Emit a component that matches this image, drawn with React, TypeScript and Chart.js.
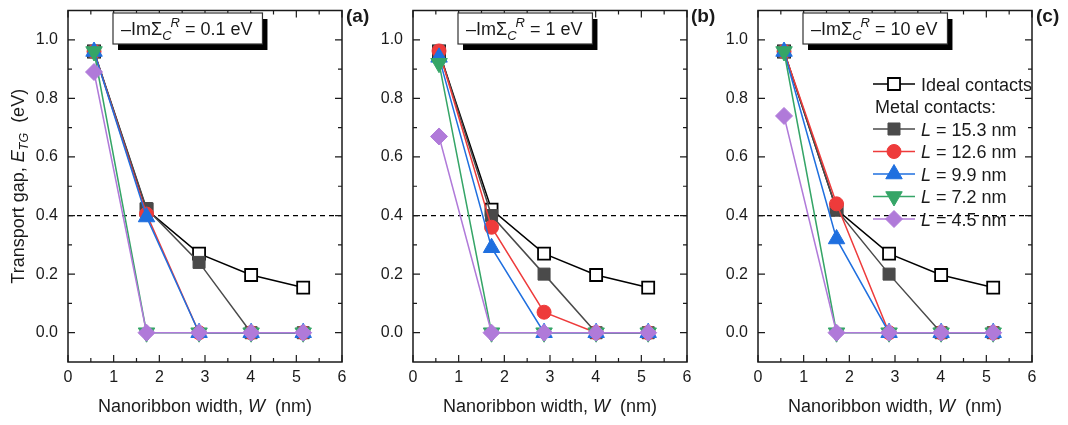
import React, { useEffect, useRef } from 'react';
import { Chart, registerables } from 'chart.js';

Chart.register(...registerables);

// ---------------- data ----------------
const widthsNm = [0.57, 1.72, 2.87, 4.01, 5.15];
const idealGap = [0.96, 0.42, 0.27, 0.197, 0.154];

// panel (a): -Im Sigma = 0.1 eV
const gapA_15_3 = [0.96, 0.424, 0.24, 0, 0];
const gapA_12_6 = [0.96, 0.405, 0, 0, 0];
const gapA_9_9 = [0.96, 0.395, 0, 0, 0];
const gapA_7_2 = [0.96, 0, 0, 0, 0];
const gapA_4_5 = [0.89, 0, 0, 0, 0];

// panel (b): -Im Sigma = 1 eV
const gapB_15_3 = [0.96, 0.4, 0.2, 0, 0];
const gapB_12_6 = [0.962, 0.36, 0.07, 0, 0];
const gapB_9_9 = [0.94, 0.29, 0, 0, 0];
const gapB_7_2 = [0.92, 0, 0, 0, 0];
const gapB_4_5 = [0.67, 0, 0, 0, 0];

// panel (c): -Im Sigma = 10 eV
const gapC_15_3 = [0.96, 0.42, 0.2, 0, 0];
const gapC_12_6 = [0.96, 0.44, 0, 0, 0];
const gapC_9_9 = [0.96, 0.32, 0, 0, 0];
const gapC_7_2 = [0.96, 0, 0, 0, 0];
const gapC_4_5 = [0.74, 0, 0, 0, 0];

const contactLengths = ['15.3', '12.6', '9.9', '7.2', '4.5'];
const panelSigma = ['0.1', '1', '10'];
const panelTags = ['(a)', '(b)', '(c)'];
const xTickValues = [0, 1, 2, 3, 4, 5, 6];
const xMinorValues = [0.5, 1.5, 2.5, 3.5, 4.5, 5.5];
const yTickValues = [0, 0.2, 0.4, 0.6, 0.8, 1.0];
const yMinorValues = [0.1, 0.3, 0.5, 0.7, 0.9];
const thresholdGap = 0.4;

const panelSeries = [
  [idealGap, gapA_15_3, gapA_12_6, gapA_9_9, gapA_7_2, gapA_4_5],
  [idealGap, gapB_15_3, gapB_12_6, gapB_9_9, gapB_7_2, gapB_4_5],
  [idealGap, gapC_15_3, gapC_12_6, gapC_9_9, gapC_7_2, gapC_4_5],
];

// ---------------- styles ----------------
const FAM = '"Liberation Sans", Arial, Helvetica, sans-serif';
const INK = '#1a1a1a';

type Style = { color: string; fill: string; shape: string; r: number; rot: number; bw: number };
const seriesStyles: Style[] = [
  { color: '#000000', fill: '#ffffff', shape: 'rect', r: 8.5, rot: 0, bw: 1.8 },
  { color: '#4a4a4a', fill: '#4a4a4a', shape: 'rect', r: 8.5, rot: 0, bw: 1 },
  { color: '#ee3b3b', fill: '#ee3b3b', shape: 'circle', r: 7, rot: 0, bw: 1 },
  { color: '#1f6fdf', fill: '#1f6fdf', shape: 'triangle', r: 9.5, rot: 0, bw: 1 },
  { color: '#35a567', fill: '#35a567', shape: 'triangle', r: 9.5, rot: 180, bw: 1 },
  { color: '#b07ad9', fill: '#b07ad9', shape: 'rectRot', r: 8.5, rot: 0, bw: 1 },
];

const panelGeom = [
  { left: 0, width: 378, yWidth: 68, padRight: 36 },
  { left: 378, width: 344, yWidth: 35, padRight: 35 },
  { left: 722, width: 346, yWidth: 36, padRight: 36 },
];

// ---------------- drawing helpers ----------------
type Seg = { t: string; size: number; italic?: boolean; bold?: boolean; dy?: number; dx?: number };
const segFont = (s: Seg) => `${s.italic ? 'italic ' : ''}${s.bold ? 'bold ' : ''}${s.size}px ${FAM}`;
function richWidth(ctx: CanvasRenderingContext2D, segs: Seg[]) {
  let w = 0;
  for (const s of segs) {
    ctx.font = segFont(s);
    w += ctx.measureText(s.t).width + (s.dx || 0);
  }
  return w;
}
function drawRich(ctx: CanvasRenderingContext2D, segs: Seg[], x: number, y: number) {
  let cx = x;
  ctx.textAlign = 'left';
  ctx.textBaseline = 'alphabetic';
  for (const s of segs) {
    ctx.font = segFont(s);
    cx += s.dx || 0;
    ctx.fillText(s.t, cx, y + (s.dy || 0));
    cx += ctx.measureText(s.t).width;
  }
}
function drawMarker(ctx: CanvasRenderingContext2D, st: Style, x: number, y: number) {
  const r = st.r;
  ctx.beginPath();
  if (st.shape === 'rect') {
    const s = r * Math.SQRT1_2;
    ctx.rect(x - s, y - s, 2 * s, 2 * s);
  } else if (st.shape === 'circle') {
    ctx.arc(x, y, r, 0, Math.PI * 2);
  } else if (st.shape === 'triangle') {
    let rad = (st.rot * Math.PI) / 180;
    ctx.moveTo(x + Math.sin(rad) * r, y - Math.cos(rad) * r);
    rad += (2 * Math.PI) / 3;
    ctx.lineTo(x + Math.sin(rad) * r, y - Math.cos(rad) * r);
    rad += (2 * Math.PI) / 3;
    ctx.lineTo(x + Math.sin(rad) * r, y - Math.cos(rad) * r);
    ctx.closePath();
  } else {
    ctx.moveTo(x - r, y);
    ctx.lineTo(x, y - r);
    ctx.lineTo(x + r, y);
    ctx.lineTo(x, y + r);
    ctx.closePath();
  }
  ctx.fillStyle = st.fill;
  ctx.fill();
  ctx.lineWidth = st.bw;
  ctx.strokeStyle = st.color;
  ctx.stroke();
}

function makePlugin(idx: number) {
  return {
    id: 'decor' + idx,
    beforeDatasetsDraw(chart: any) {
      const { ctx, chartArea } = chart;
      const y = chart.scales.y.getPixelForValue(thresholdGap);
      ctx.save();
      ctx.strokeStyle = '#000';
      ctx.lineWidth = 1.2;
      ctx.setLineDash([5, 4]);
      ctx.beginPath();
      ctx.moveTo(chartArea.left, y);
      ctx.lineTo(chartArea.right, y);
      ctx.stroke();
      ctx.restore();
    },
    afterDraw(chart: any) {
      const { ctx, chartArea: ca } = chart;
      const xs = chart.scales.x;
      const ys = chart.scales.y;
      ctx.save();
      // frame
      ctx.strokeStyle = INK;
      ctx.lineWidth = 1.5;
      ctx.setLineDash([]);
      ctx.strokeRect(ca.left, ca.top, ca.right - ca.left, ca.bottom - ca.top);
      // inward ticks on all four sides
      ctx.lineWidth = 1.2;
      ctx.beginPath();
      const xt = (v: number, len: number) => {
        const px = xs.getPixelForValue(v);
        ctx.moveTo(px, ca.bottom);
        ctx.lineTo(px, ca.bottom - len);
        ctx.moveTo(px, ca.top);
        ctx.lineTo(px, ca.top + len);
      };
      const yt = (v: number, len: number) => {
        const py = ys.getPixelForValue(v);
        ctx.moveTo(ca.left, py);
        ctx.lineTo(ca.left + len, py);
        ctx.moveTo(ca.right, py);
        ctx.lineTo(ca.right - len, py);
      };
      xTickValues.forEach((v) => xt(v, 7));
      xMinorValues.forEach((v) => xt(v, 4));
      yTickValues.forEach((v) => yt(v, 7));
      yMinorValues.forEach((v) => yt(v, 4));
      ctx.stroke();

      ctx.fillStyle = INK;
      // title box
      const tsegs: Seg[] = [
        { t: '–ImΣ', size: 18 },
        { t: 'C', size: 13, italic: true, dy: 5 },
        { t: 'R', size: 13, italic: true, dy: -8, dx: -1 },
        { t: ' = ' + panelSigma[idx] + ' eV', size: 18 },
      ];
      const tw = richWidth(ctx, tsegs);
      const bx = ca.left + 45;
      const by = 13;
      const bw = tw + 18;
      const bh = 31;
      ctx.fillStyle = '#000';
      ctx.fillRect(bx + 5, by + 6, bw, bh);
      ctx.fillStyle = '#fff';
      ctx.fillRect(bx, by, bw, bh);
      ctx.strokeStyle = '#333';
      ctx.lineWidth = 1.2;
      ctx.strokeRect(bx, by, bw, bh);
      ctx.fillStyle = INK;
      drawRich(ctx, tsegs, bx + 8, by + 22);

      // panel tag
      drawRich(ctx, [{ t: panelTags[idx], size: 19, bold: true }], ca.right + 4, 22);

      // x-axis title
      const xsegs: Seg[] = [
        { t: 'Nanoribbon width, ', size: 18 },
        { t: 'W', size: 18, italic: true },
        { t: '  (nm)', size: 18 },
      ];
      const xw = richWidth(ctx, xsegs);
      drawRich(ctx, xsegs, (ca.left + ca.right) / 2 - xw / 2, 412);

      // y-axis title (panel a only)
      if (idx === 0) {
        const ysegs: Seg[] = [
          { t: 'Transport gap, ', size: 18 },
          { t: 'E', size: 18, italic: true },
          { t: 'TG', size: 12.5, italic: true, dy: 4 },
          { t: '  (eV)', size: 18 },
        ];
        const yw = richWidth(ctx, ysegs);
        ctx.save();
        ctx.translate(24, (ca.top + ca.bottom) / 2);
        ctx.rotate(-Math.PI / 2);
        drawRich(ctx, ysegs, -yw / 2, 0);
        ctx.restore();
      }

      // legend (panel c only)
      if (idx === 2) {
        const lx0 = ca.left + 115;
        const lx1 = ca.left + 157;
        const mx = ca.left + 136;
        const tx = ca.left + 163;
        const y0 = 84;
        const step = 22.5;
        const row = (si: number, yy: number, segs: Seg[]) => {
          const st = seriesStyles[si];
          ctx.strokeStyle = st.color;
          ctx.lineWidth = 1.5;
          ctx.beginPath();
          ctx.moveTo(lx0, yy);
          ctx.lineTo(lx1, yy);
          ctx.stroke();
          drawMarker(ctx, st, mx, yy);
          ctx.fillStyle = INK;
          drawRich(ctx, segs, tx, yy + 6.5);
        };
        row(0, y0, [{ t: 'Ideal contacts', size: 18 }]);
        ctx.fillStyle = INK;
        drawRich(ctx, [{ t: 'Metal contacts:', size: 18 }], lx0 + 2, y0 + step + 6.5);
        contactLengths.forEach((L, i) => {
          row(i + 1, y0 + step * (i + 2), [
            { t: 'L', size: 18, italic: true },
            { t: ' = ' + L + ' nm', size: 18 },
          ]);
        });
      }
      ctx.restore();
    },
  };
}

function makeConfig(idx: number): any {
  const g = panelGeom[idx];
  const series = panelSeries[idx];
  const labels = ['Ideal contacts', ...contactLengths.map((L) => 'L = ' + L + ' nm')];
  return {
    type: 'line',
    data: {
      datasets: series.map((vals, i) => {
        const st = seriesStyles[i];
        return {
          label: labels[i],
          data: widthsNm.map((x, k) => ({ x, y: vals[k] })),
          borderColor: st.color,
          backgroundColor: st.fill,
          borderWidth: 1.5,
          pointStyle: st.shape,
          pointRadius: st.r,
          pointHoverRadius: st.r,
          pointRotation: st.rot,
          pointBackgroundColor: st.fill,
          pointBorderColor: st.color,
          pointBorderWidth: st.bw,
          tension: 0,
          fill: false,
          clip: false,
          order: series.length - i,
        };
      }),
    },
    options: {
      responsive: false,
      maintainAspectRatio: false,
      animation: false,
      events: [],
      layout: { padding: { left: 0, right: g.padRight, top: 1, bottom: 0 } },
      plugins: { legend: { display: false }, tooltip: { enabled: false } },
      scales: {
        x: {
          type: 'linear',
          min: 0,
          max: 6,
          afterBuildTicks: (s: any) => {
            s.ticks = xTickValues.map((v) => ({ value: v }));
          },
          afterFit: (s: any) => {
            s.height = 63;
            s.paddingLeft = 0;
            s.paddingRight = 0;
          },
          ticks: {
            font: { family: FAM, size: 16 },
            color: INK,
            padding: 6,
            maxRotation: 0,
            autoSkip: false,
            callback: (v: number) => String(v),
          },
          grid: { display: false, drawTicks: false },
          border: { display: false },
        },
        y: {
          type: 'linear',
          min: -0.1,
          max: 1.1,
          afterBuildTicks: (s: any) => {
            s.ticks = yTickValues.map((v) => ({ value: v }));
          },
          afterFit: (s: any) => {
            s.width = g.yWidth;
            s.paddingTop = 0;
            s.paddingBottom = 0;
          },
          ticks: {
            font: { family: FAM, size: 16 },
            color: INK,
            padding: 10,
            autoSkip: false,
            callback: (v: number) => v.toFixed(1),
          },
          grid: { display: false, drawTicks: false },
          border: { display: false },
        },
      },
    },
    plugins: [makePlugin(idx)],
  };
}

function Panel({ idx }: { idx: number }) {
  const ref = useRef<HTMLCanvasElement>(null);
  useEffect(() => {
    const chart = new Chart(ref.current as HTMLCanvasElement, makeConfig(idx));
    return () => chart.destroy();
  }, [idx]);
  const g = panelGeom[idx];
  return (
    <canvas
      ref={ref}
      width={g.width}
      height={425}
      style={{ position: 'absolute', left: g.left, top: 0, width: g.width, height: 425 }}
    />
  );
}

export default function App() {
  return (
    <div style={{ position: 'absolute', left: 0, top: 0, width: 1068, height: 425, background: '#fff', overflow: 'hidden' }}>
      <Panel idx={0} />
      <Panel idx={1} />
      <Panel idx={2} />
    </div>
  );
}
